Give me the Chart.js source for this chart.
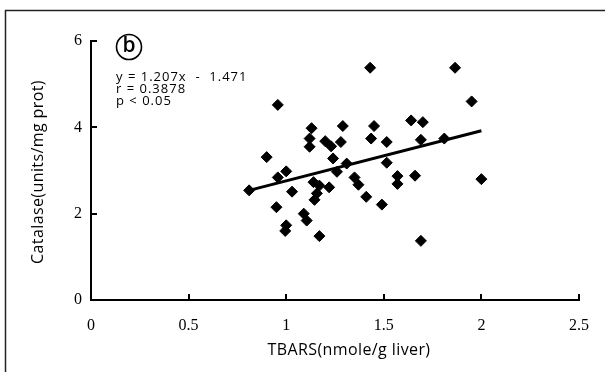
<!DOCTYPE html>
<html><head><meta charset="utf-8">
<script src="https://cdn.jsdelivr.net/npm/chart.js@4/dist/chart.umd.min.js"></script>
<style>html,body{margin:0;padding:0;background:#fff}#wrap{width:605px;height:372px;position:relative}</style>
</head><body><div id="wrap"><canvas id="c"></canvas></div>
<script>
const tbars = [0.81,0.90,0.957,0.957,1.00,1.03,0.95,1.00,0.995,1.09,1.105,1.17,1.14,1.17,1.157,1.145,1.22,1.24,1.26,1.31,1.35,1.37,1.41,1.49,1.515,1.57,1.57,1.66,2.00,1.69,1.13,1.29,1.45,1.43,1.865,1.95,1.64,1.70,1.435,1.515,1.69,1.81,1.12,1.12,1.20,1.23,1.28];
const catalase = [2.54,3.31,4.52,2.84,2.98,2.51,2.15,1.73,1.60,2.00,1.84,1.48,2.73,2.65,2.47,2.32,2.61,3.28,2.97,3.16,2.84,2.67,2.39,2.21,3.18,2.87,2.69,2.88,2.80,1.37,3.98,4.03,4.03,5.38,5.38,4.60,4.16,4.12,3.74,3.66,3.71,3.74,3.74,3.55,3.68,3.56,3.66];
const fitX = [0.81, 2.0];
const fitY = [2.54, 3.92];
const xTicks = [0, 0.5, 1, 1.5, 2, 2.5];
const xTickLabels = ['0', '0.5', '1', '1.5', '2', '2.5'];
const yTicks = [0, 2, 4, 6];
const yTickLabels = ['0', '2', '4', '6'];
const xTitle = 'TBARS(nmole/g liver)';
const yTitle = 'Catalase(units/mg prot)';
const annotationLines = ['y = 1.207x  -  1.471', 'r = 0.3878', 'p < 0.05'];
const panelLabel = 'b';

const decor = {
  id: 'decor',
  afterDraw(chart) {
    const ctx = chart.ctx, xs = chart.scales.x, ys = chart.scales.y;
    const ca = chart.chartArea;
    ctx.save();
    ctx.strokeStyle = '#222'; ctx.lineWidth = 1.5;
    ctx.beginPath(); ctx.moveTo(5.5, 380); ctx.lineTo(5.5, 10.5); ctx.lineTo(620, 10.5); ctx.stroke();
    ctx.strokeStyle = '#000'; ctx.lineWidth = 2;
    yTicks.forEach(v => { const y = Math.round(ys.getPixelForValue(v)); ctx.beginPath(); ctx.moveTo(ca.left, y); ctx.lineTo(ca.left + 6, y); ctx.stroke(); });
    xTicks.forEach(v => { const x = Math.round(xs.getPixelForValue(v)); ctx.beginPath(); ctx.moveTo(x, ca.bottom); ctx.lineTo(x, ca.bottom - 6); ctx.stroke(); });
    ctx.lineWidth = 1.6;
    ctx.beginPath(); ctx.arc(129, 47, 12.5, 0, Math.PI * 2); ctx.stroke();
    ctx.fillStyle = '#000'; ctx.font = '600 21px "Open Sans", sans-serif';
    ctx.textAlign = 'center'; ctx.textBaseline = 'middle';
    ctx.fillText(panelLabel, 129, 46);
    ctx.font = '13px "Open Sans", sans-serif'; ctx.textAlign = 'left';
    ctx.letterSpacing = '1px';
    annotationLines.forEach((t, i) => ctx.fillText(t, 116, 77 + i * 12));
    ctx.font = '16px "Open Sans", sans-serif'; ctx.textAlign = 'center';
    ctx.letterSpacing = '0.4px';
    ctx.fillText(xTitle, 349, 350);
    ctx.translate(38, 172); ctx.rotate(-Math.PI / 2);
    ctx.fillText(yTitle, 0, 0);
    ctx.restore();
  }
};

new Chart(document.getElementById('c'), {
  type: 'scatter',
  data: {
    datasets: [
      { type: 'line', data: fitX.map((x, i) => ({ x, y: fitY[i] })), borderColor: '#000', borderWidth: 3, pointRadius: 0, fill: false },
      { data: tbars.map((x, i) => ({ x, y: catalase[i] })), pointStyle: 'rectRot', pointRadius: 5.5, backgroundColor: '#000', borderColor: '#000', borderWidth: 1 }
    ]
  },
  options: {
    responsive: true, maintainAspectRatio: false, animation: false, devicePixelRatio: 1,
    layout: { padding: { left: 0, top: 41, right: 14, bottom: 0 } },
    plugins: { legend: { display: false }, tooltip: { enabled: false } },
    scales: {
      x: {
        type: 'linear', min: 0, max: 2.5,
        afterBuildTicks: s => { s.ticks = xTicks.map(v => ({ value: v })); },
        afterFit: s => { s.height = 72; },
        grid: { display: false, drawTicks: false },
        border: { display: true, color: '#000', width: 2 },
        ticks: { padding: 16, color: '#000', font: { family: '"Liberation Serif", serif', size: 16 },
          callback: (v) => xTickLabels[xTicks.indexOf(v)] }
      },
      y: {
        type: 'linear', min: 0, max: 6,
        afterBuildTicks: s => { s.ticks = yTicks.map(v => ({ value: v })); },
        afterFit: s => { s.width = 91; },
        grid: { display: false, drawTicks: false },
        border: { display: true, color: '#000', width: 2 },
        ticks: { padding: 9, color: '#000', font: { family: '"Liberation Serif", serif', size: 16 },
          callback: (v) => yTickLabels[yTicks.indexOf(v)] }
      }
    }
  },
  plugins: [decor]
});
</script></body></html>
